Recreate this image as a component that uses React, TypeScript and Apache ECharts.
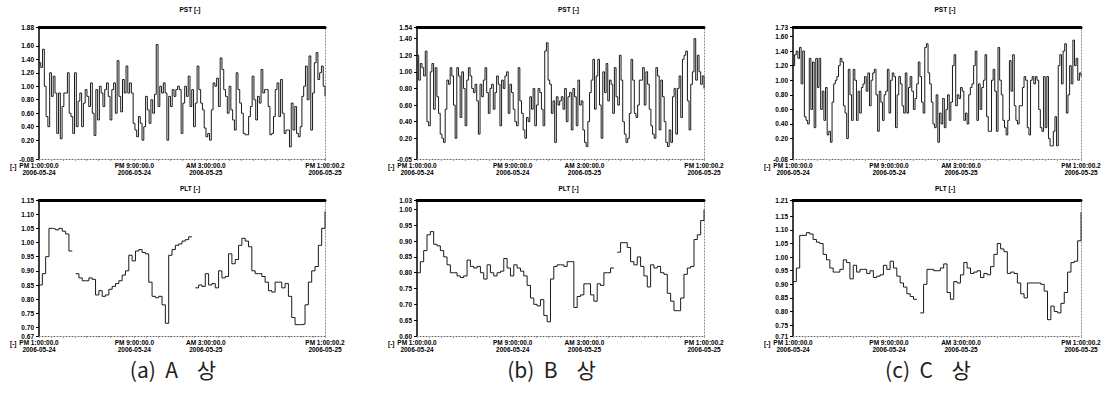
import React, { useEffect, useRef } from 'react';
import * as echarts from 'echarts';

const X_LABEL_HOURS = [0, 8, 14, 24];
const X_LABELS = ['PM 1:00:00.0\n2006-05-24', 'PM 9:00:00.0\n2006-05-24', 'AM 3:00:00.0\n2006-05-25', 'PM 1:00:00.2\n2006-05-25'];
const CAPTIONS = ['(a)  A    상', '(b)  B    상', '(c)  C    상'];
const PST_TITLE = 'PST [-]';
const PLT_TITLE = 'PLT [-]';

const PST_A = [1.35, 1.28, 1.55, 1.0, 0.55, 0.4, 1.2, 0.85, 1.15, 0.9, 0.3, 0.9, 0.22, 0.7, 0.9, 0.9, 1.2, 0.6, 0.55, 0.3,
  1.2, 0.4, 0.78, 0.9, 0.4, 0.75, 0.95, 0.85, 0.7, 1.05, 0.6, 0.27, 0.95, 0.5, 1.0, 0.9, 0.7, 0.95, 1.05, 0.85,
  0.5, 0.95, 1.05, 0.6, 1.38, 0.85, 0.62, 1.1, 0.9, 1.3, 0.9, 1.05, 0.9, 0.45, 0.35, 0.25, 0.55, 0.45, 0.2, 0.4,
  0.85, 0.65, 0.45, 0.8, 0.6, 0.88, 1.62, 0.7, 1.0, 0.9, 1.05, 0.9, 0.2, 0.85, 0.7, 0.95, 0.85, 0.95, 1.0, 0.95,
  0.3, 0.75, 1.0, 0.85, 1.15, 0.7, 0.95, 0.4, 0.75, 1.3, 0.95, 0.75, 0.65, 0.38, 0.25, 0.3, 0.2, 0.65, 1.05, 1.0,
  1.12, 0.7, 1.42, 1.25, 0.95, 0.85, 0.6, 1.0, 0.65, 0.5, 0.35, 1.2, 0.95, 0.75, 0.6, 0.3, 0.28, 0.28, 0.55, 0.7,
  1.15, 0.8, 0.5, 0.85, 0.75, 1.25, 0.9, 0.95, 0.95, 0.7, 0.28, 0.3, 0.55, 0.95, 1.05, 0.55, 1.1, 0.6, 0.3, 0.35,
  0.35, 0.1, 0.75, 0.35, 0.7, 0.3, 0.25, 0.4, 0.85, 1.0, 1.3, 0.8, 1.45, 0.35, 0.9, 1.35, 1.5, 1.1, 1.2, 1.3, 1.0, 0.85];

const PST_B = [1.2, 0.9, 1.1, 1.05, 0.95, 1.25, 0.4, 0.35, 1.0, 1.1, 0.55, 1.05, 0.7, 0.5, 0.25, 0.2, 0.15, 0.55, 0.9, 0.85,
  1.05, 0.95, 0.6, 0.2, 1.05, 0.95, 0.45, 1.0, 0.8, 0.35, 0.9, 1.05, 0.95, 0.8, 0.75, 0.85, 0.65, 0.25, 0.85, 0.7,
  0.9, 1.05, 0.75, 0.5, 0.8, 0.85, 0.55, 0.75, 0.95, 0.85, 0.35, 0.9, 0.8, 0.95, 1.0, 0.5, 0.85, 0.75, 0.55, 0.4,
  0.35, 1.05, 0.65, 0.5, 0.3, 0.2, 0.45, 0.4, 0.7, 0.55, 0.8, 0.35, 0.6, 0.8, 0.75, 0.55, 0.35, 1.25, 1.35, 0.9,
  0.85, 0.5, 0.65, 0.15, 0.7, 0.6, 0.65, 0.7, 0.55, 0.8, 0.4, 0.7, 0.75, 0.3, 0.8, 0.7, 0.35, 0.9, 0.6, 0.65,
  0.3, 0.15, 0.1, 0.4, 0.75, 0.9, 1.15, 0.55, 0.95, 1.15, 0.6, 0.2, 1.0, 0.75, 1.1, 0.65, 0.9, 0.85, 0.5, 1.05,
  0.7, 0.6, 1.2, 0.9, 0.4, 0.25, 0.15, 0.2, 0.5, 1.15, 0.9, 0.5, 0.45, 0.6, 0.9, 0.9, 1.05, 0.6, 1.0, 0.85,
  0.55, 0.35, 0.25, 0.2, 1.05, 0.95, 0.3, 0.9, 0.7, 0.4, 0.15, 0.1, 0.3, 0.15, 0.7, 0.8, 0.25, 0.8, 0.95, 0.45,
  1.15, 1.2, 1.25, 0.65, 0.3, 0.85, 1.0, 1.4, 0.9, 1.2, 1.0, 0.85, 0.95, 0.8];

const PST_C = [1.2, 1.35, 1.4, 1.3, 1.45, 0.95, 1.4, 0.5, 0.45, 0.4, 1.3, 0.6, 1.25, 0.35, 1.3, 0.9, 1.3, 0.6, 0.85, 0.45,
  0.9, 0.25, 0.3, 0.15, 0.7, 0.95, 1.0, 1.05, 1.2, 1.3, 1.25, 0.65, 0.55, 0.2, 1.15, 0.8, 0.45, 1.15, 1.0, 0.45,
  0.85, 0.55, 0.9, 0.95, 1.05, 0.85, 1.1, 0.65, 1.0, 1.1, 1.15, 0.8, 0.3, 0.85, 0.7, 0.45, 0.8, 0.85, 1.15, 0.55,
  1.0, 1.1, 1.05, 0.35, 0.8, 1.05, 0.95, 0.65, 0.55, 1.1, 0.55, 0.9, 1.05, 0.85, 0.6, 0.75, 0.95, 1.25, 1.05, 0.7,
  0.55, 1.45, 1.5, 1.1, 0.95, 0.7, 0.4, 0.35, 0.8, 0.15, 0.55, 0.4, 0.75, 0.35, 0.6, 0.8, 0.45, 0.7, 1.2, 1.35,
  0.65, 0.8, 0.75, 0.9, 0.85, 0.45, 0.55, 0.4, 0.8, 0.9, 0.95, 1.2, 1.4, 0.45, 0.95, 0.6, 0.9, 1.0, 1.35, 0.5,
  0.3, 0.3, 1.0, 1.15, 0.85, 0.3, 1.45, 1.0, 0.8, 0.45, 0.35, 0.25, 0.45, 1.27, 0.85, 1.35, 0.65, 0.45, 0.4, 0.65,
  0.65, 0.9, 1.05, 1.0, 0.35, 0.25, 1.0, 1.05, 0.95, 1.05, 1.0, 0.6, 0.35, 0.3, 1.05, 0.35, 1.05, 0.2, 0.1, 0.1,
  0.3, 0.5, 0.1, 1.2, 1.35, 0.95, 1.4, 1.5, 0.55, 0.8, 1.2, 0.95, 1.55, 1.2, 1.3, 1.0, 1.1, 1.05];

const PLT_A = [0.85, 0.89, 0.95, 1.05, 1.048, 1.045, 1.05, 1.04, 1.03, 0.97, null, 0.89, 0.875, 0.865, 0.865, 0.875, 0.87, 0.815, 0.83, 0.81,
  0.815, 0.835, 0.845, 0.855, 0.865, 0.885, 0.9, 0.955, 0.935, 0.97, 0.975, 0.965, 0.96, 0.86, 0.81, 0.805, 0.81, 0.78, 0.715, 0.955,
  0.975, 0.99, 0.995, 1.005, 1.01, 1.02, null, 0.84, 0.85, 0.845, 0.89, 0.85, 0.855, 0.84, 0.9, 0.875, 0.88, 0.96, 0.925, 0.94,
  0.99, 1.015, 1.005, 0.985, 0.9, 0.89, 0.89, 0.88, 0.86, 0.83, 0.825, 0.86, 0.86, 0.84, 0.855, 0.81, 0.735, 0.71, 0.71, 0.712,
  0.78, 0.86, 0.9, 0.915, 0.99, 1.05, 1.11];

const PLT_B = [0.8, 0.835, 0.87, 0.92, 0.93, 0.89, 0.885, 0.87, 0.85, 0.825, 0.8, 0.8, 0.79, 0.785, 0.79, 0.84, 0.82, 0.815, 0.82, 0.8,
  0.78, 0.825, 0.8, 0.79, 0.8, 0.805, 0.845, 0.815, 0.79, 0.825, 0.815, 0.805, 0.79, 0.76, 0.72, 0.7, 0.695, 0.715, 0.665, 0.645,
  0.78, 0.82, 0.825, 0.825, 0.82, 0.835, 0.835, 0.69, 0.725, 0.73, 0.765, 0.765, 0.73, 0.71, 0.765, 0.76, 0.8, 0.8, 0.815, null,
  0.865, 0.895, 0.895, 0.88, 0.835, 0.825, 0.85, 0.82, 0.79, 0.755, 0.825, 0.815, 0.82, 0.8, 0.795, 0.735, 0.71, 0.68, 0.68, 0.72,
  0.795, 0.815, 0.82, 0.905, 0.92, 0.965, 1.0];

const PLT_C = [0.91, 0.96, 1.08, 1.08, 1.09, 1.085, 1.065, 1.055, 1.05, 1.01, 0.99, 0.96, 0.945, 0.945, 0.955, 0.99, 0.98, 0.92, 0.97, 0.945,
  0.955, 0.955, 0.94, 0.95, 0.925, 0.93, 0.935, 0.97, 0.955, 0.985, 0.96, 0.93, 0.905, 0.89, 0.865, 0.855, 0.845, null, 0.795, 0.9,
  0.955, 0.955, 0.95, 0.95, 0.96, 0.975, 0.87, 0.845, 0.91, 0.905, 0.935, 0.98, 0.96, 0.94, 0.945, 0.95, 0.925, 0.94, 0.935, 0.965,
  1.01, 1.05, 1.03, 1.02, 0.94, 0.945, 0.94, 0.905, 0.865, 0.85, 0.905, 0.905, 0.905, 0.905, 0.9, 0.875, 0.77, 0.82, 0.8, 0.795,
  0.83, 0.87, 0.945, 0.98, 0.985, 1.06, 1.165];

const PST_TICKS_A = [-0.08, 0.2, 0.4, 0.6, 0.8, 1.0, 1.2, 1.4, 1.6, 1.88];
const PST_TICKS_B = [-0.05, 0.2, 0.4, 0.6, 0.8, 1.0, 1.2, 1.4, 1.54];
const PST_TICKS_C = [-0.08, 0.2, 0.4, 0.6, 0.8, 1.0, 1.2, 1.4, 1.6, 1.73];
const PLT_TICKS_A = [0.67, 0.7, 0.75, 0.8, 0.85, 0.9, 0.95, 1.0, 1.05, 1.1, 1.15];
const PLT_TICKS_B = [0.6, 0.65, 0.7, 0.75, 0.8, 0.85, 0.9, 0.95, 1.0, 1.03];
const PLT_TICKS_C = [0.71, 0.75, 0.8, 0.85, 0.9, 0.95, 1.0, 1.05, 1.1, 1.15, 1.21];

const PANEL_X = [
  { left: 39, width: 286 },
  { left: 417, width: 287 },
  { left: 793, width: 288 },
];
const ROWS = [
  { top: 27, height: 132 },
  { top: 200, height: 136 },
];

const FONT = 'Liberation Sans, Arial, sans-serif';

export default function App() {
  const ref = useRef<HTMLDivElement>(null);
  useEffect(() => {
    if (!ref.current) return;
    const chart = echarts.init(ref.current, undefined, { renderer: 'svg' });
    const seriesData = [
      [PST_A, PLT_A],
      [PST_B, PLT_B],
      [PST_C, PLT_C],
    ];
    const ticks = [
      [PST_TICKS_A, PLT_TICKS_A],
      [PST_TICKS_B, PLT_TICKS_B],
      [PST_TICKS_C, PLT_TICKS_C],
    ];
    const grid: any[] = [];
    const xAxis: any[] = [];
    const yAxis: any[] = [];
    const series: any[] = [];
    const graphic: any[] = [];
    for (let p = 0; p < 3; p++) {
      for (let r = 0; r < 2; r++) {
        const g = p * 2 + r;
        const tk = ticks[p][r];
        const mn = tk[0];
        const mx = tk[tk.length - 1];
        grid.push({ left: PANEL_X[p].left, width: PANEL_X[p].width, top: ROWS[r].top, height: ROWS[r].height });
        xAxis.push({
          type: 'value', gridIndex: g, min: 0, max: 24, interval: 1,
          axisLine: { show: true, onZero: false, lineStyle: { color: '#666', type: [1, 2], width: 1 } },
          axisTick: { show: true, length: 2, lineStyle: { color: '#999' } },
          minorTick: { show: false },
          splitLine: { show: false },
          axisLabel: {
            customValues: X_LABEL_HOURS,
            formatter: (v: number) => { const i = X_LABEL_HOURS.indexOf(v); return i >= 0 ? X_LABELS[i] : ''; },
            fontSize: 6.5, fontWeight: 'bold', lineHeight: 7, margin: 3, color: '#000', fontFamily: FONT,
          },
        });
        xAxis.push({
          type: 'value', gridIndex: g, position: 'top', min: 0, max: 24,
          axisLine: { show: true, onZero: false, lineStyle: { color: '#000', width: 3 } },
          axisTick: { show: false }, axisLabel: { show: false }, splitLine: { show: false },
        });
        yAxis.push({
          type: 'value', gridIndex: g, min: mn, max: mx,
          axisLine: { show: true, onZero: false, lineStyle: { color: '#000', width: 1.5 } },
          axisTick: { show: true, length: 3, customValues: tk, lineStyle: { color: '#000' } },
          splitLine: { show: false },
          axisLabel: {
            customValues: tk, formatter: (v: number) => v.toFixed(2),
            fontSize: 6.5, fontWeight: 'bold', margin: 5, color: '#000', fontFamily: FONT,
          },
        });
        yAxis.push({
          type: 'value', gridIndex: g, position: 'right', min: mn, max: mx,
          axisLine: { show: true, onZero: false, lineStyle: { color: '#888', type: [1, 2], width: 1 } },
          axisTick: { show: false }, axisLabel: { show: false }, splitLine: { show: false },
        });
        const arr = seriesData[p][r];
        series.push({
          type: 'line', xAxisIndex: g * 2, yAxisIndex: g * 2, step: 'end', showSymbol: false,
          connectNulls: false,
          lineStyle: { color: '#1a1a1a', width: 1 },
          data: arr.map((v, i) => [(i * 24) / (arr.length - 1), v]),
        });
        graphic.push({
          type: 'text', x: PANEL_X[p].left - 29, y: r === 0 ? 166 : 343,
          style: { text: '[-]', fill: '#000', font: `bold 6.5px ${FONT}`, textVerticalAlign: 'middle' },
        });
        graphic.push({
          type: 'text', x: PANEL_X[p].left + PANEL_X[p].width / 2 + 8, y: r === 0 ? 9 : 188,
          style: { text: r === 0 ? PST_TITLE : PLT_TITLE, font: `bold 6.5px ${FONT}`, fill: '#000', textAlign: 'center', textVerticalAlign: 'middle' },
        });
      }
      graphic.push({
        type: 'text', x: PANEL_X[p].left + PANEL_X[p].width / 2 - 9, y: 369,
        style: { text: CAPTIONS[p], font: `21px "Noto Sans CJK KR", sans-serif`, fill: '#222', textAlign: 'center', textVerticalAlign: 'middle' },
      });
    }
    chart.setOption({
      animation: false,
      backgroundColor: '#fff',
      grid, xAxis, yAxis, series, graphic,
    });
    return () => chart.dispose();
  }, []);
  return <div ref={ref} style={{ position: 'absolute', left: 0, top: 0, width: 1110, height: 396 }} />;
}
